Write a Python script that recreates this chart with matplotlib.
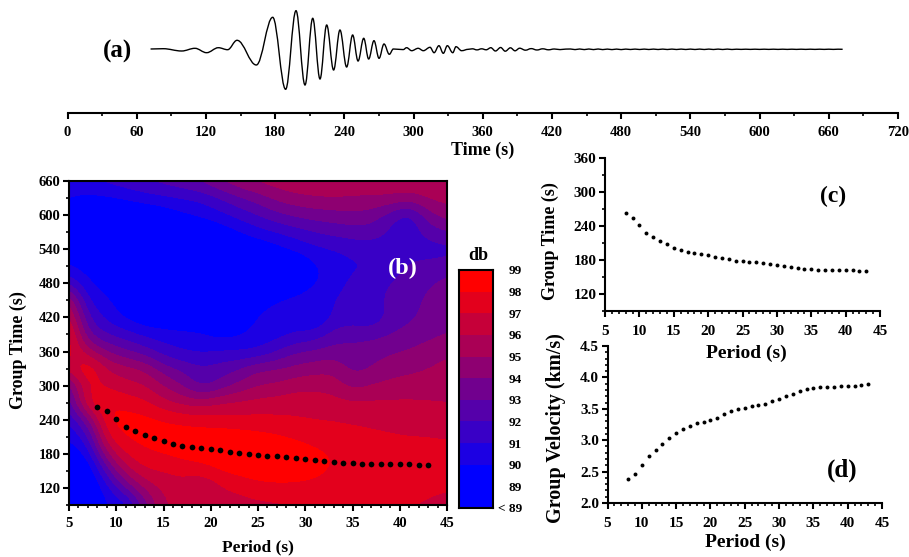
"""Seismogram, FTAN map and the picked dispersion curves (panels a-d)."""

import matplotlib
matplotlib.use("Agg")
import matplotlib.pyplot as plt
import numpy as np
from matplotlib.colors import BoundaryNorm, ListedColormap
from matplotlib.patches import PathPatch
from matplotlib.path import Path
from matplotlib.ticker import MultipleLocator

WIDTH, HEIGHT = 909, 557

# panel (a): extrema of the trace
wave_t = [72, 83, 99, 110.5, 120.6, 130.8, 138.8, 147, 163.7, 177.9, 189.1, 198.1, 205.9, 212.6,
          218.9, 224.7, 230.7, 236.2, 242, 247.2, 251.9, 256.8, 261.1, 265.7, 270.1, 274.4, 279,
          282.5, 291, 294, 298.4, 304, 308.5, 314.3, 317.8, 322, 325.8, 329.3, 334, 336.8, 341.7,
          347.5, 351, 355, 359, 363, 367, 371, 375.5, 379.5, 384, 388, 392, 397, 402, 407, 412,
          417, 422, 427, 432]
wave_amp = [-1, -0.7, -3, -0.3, -4.7, 0.3, -1.7, 7.7, -17, 30.7, -41.3, 37.3, -37, 29.7,
            -31, 23, -22, 18, -19, 13, -13, 9.7, -11, 7.3, -10.3, 4, -6.3,
            -1, -1.6, 0.3, -2.7, -0.3, -2.7, 0.7, -4.7, 2.3, -5.3, 2.3, -4.7, 1.3, -2.7,
            -1.3, -0.8, -1.9, -0.8, -1.8, 0.3, -3, 0.5, -3.2, 0.2, -2.8, -0.2, -2.2, -0.6,
            -2, -0.8, -1.8, -1, -1.6, -1.1]
tail_t = [436, 440, 444, 448, 452, 456, 460, 464, 468, 472, 476, 480, 484, 488, 492, 496, 500, 504,
          508, 512, 516, 520, 524, 528, 532, 536, 540, 544, 548, 552, 556, 560, 564, 568, 572, 576,
          580, 584, 588, 592, 596, 600, 604, 608, 612, 616, 620, 624, 628, 632, 636, 640, 644, 648,
          652, 656, 660, 664, 668, 672]
tail_amp = [-1.0, -1.6, -1.0, -1.6, -1.0, -1.6, -1.0, -1.6, -1.1, -1.6, -1.1, -1.6, -1.1, -1.5,
            -1.1, -1.5, -1.1, -1.5, -1.1, -1.5, -1.1, -1.5, -1.1, -1.5, -1.1, -1.5, -1.1, -1.5,
            -1.1, -1.5, -1.1, -1.5, -1.1, -1.5, -1.1, -1.5, -1.2, -1.4, -1.2, -1.4, -1.2, -1.4,
            -1.2, -1.4, -1.2, -1.4, -1.2, -1.4, -1.2, -1.4, -1.2, -1.4, -1.2, -1.4, -1.2, -1.4,
            -1.2, -1.4, -1.2, -1.3]

# panel (b): energy map in db, one row per time, one value per period
map_period = [5, 7, 9, 11, 13, 15, 17, 19, 21, 23, 25, 27, 29, 31, 33, 35, 37, 39, 41, 43, 45]
map_time = [90, 120, 150, 180, 210, 240, 270, 300, 330, 360, 390, 420, 450, 480, 510, 540, 570, 600, 630, 660]
map_db = [
    [88.5, 88.5, 90.0, 90.2, 93.5, 96.0, 96.3, 96.2, 96.4, 96.6, 96.7, 96.8, 96.9, 96.9, 96.9, 97.0, 97.05, 97.05, 97.05, 96.8, 96.6],
    [88.5, 88.5, 90.5, 93.0, 95.2, 96.3, 96.6, 95.4, 96.9, 97.2, 97.6, 97.7, 97.7, 97.6, 97.3, 97.4, 97.4, 97.4, 97.4, 97.3, 97.1],
    [88.7, 88.7, 92.5, 95.5, 97.0, 97.0, 97.3, 97.6, 98.1, 98.4, 98.6, 98.7, 98.6, 98.4, 97.9, 97.6, 97.6, 97.6, 97.6, 97.6, 97.5],
    [89.2, 90.0, 95.0, 97.2, 97.8, 98.05, 98.4, 98.5, 98.6, 98.7, 98.7, 98.7, 98.6, 98.3, 97.95, 97.7, 97.6, 97.5, 97.5, 97.4, 97.4],
    [90.0, 91.5, 97.2, 98.1, 98.4, 98.6, 98.7, 98.7, 98.7, 98.6, 98.4, 98.2, 97.9, 97.6, 97.4, 97.3, 97.2, 97.1, 97.0, 97.0, 96.9],
    [91.0, 93.5, 98.1, 98.5, 98.4, 98.05, 97.7, 97.5, 97.4, 97.3, 97.3, 97.2, 97.1, 97.0, 97.0, 96.9, 96.8, 96.7, 96.6, 96.6, 96.5],
    [92.0, 97.5, 98.2, 97.6, 97.3, 96.3, 95.8, 95.6, 96.1, 96.2, 96.4, 96.5, 96.6, 96.5, 96.4, 96.2, 96.2, 96.2, 96.2, 96.1, 96.0],
    [93.0, 97.4, 96.8, 96.4, 96.1, 95.0, 94.0, 92.4, 93.3, 94.3, 95.0, 95.2, 95.7, 95.8, 95.6, 94.6, 95.1, 95.3, 95.4, 95.5, 95.6],
    [96.5, 98.4, 96.0, 95.4, 95.0, 93.5, 92.8, 92.2, 92.5, 93.0, 94.0, 94.0, 94.3, 94.6, 94.8, 93.6, 94.0, 94.6, 94.8, 95.0, 95.3],
    [97.5, 95.5, 94.0, 93.2, 92.5, 91.5, 91.0, 90.8, 91.1, 91.0, 91.0, 92.0, 93.0, 93.2, 93.5, 93.3, 93.6, 93.9, 94.1, 94.5, 94.9],
    [98.0, 93.0, 92.0, 91.5, 90.8, 90.5, 90.3, 90.2, 89.6, 89.9, 90.4, 90.5, 91.0, 91.3, 92.5, 92.7, 92.7, 93.0, 93.4, 93.7, 94.0],
    [96.7, 92.0, 90.7, 89.8, 89.1, 89.0, 89.0, 89.0, 88.8, 89.0, 90.2, 90.5, 90.6, 89.7, 91.2, 91.5, 91.0, 92.4, 92.8, 93.3, 93.8],
    [95.5, 90.8, 90.2, 89.3, 88.7, 88.6, 88.6, 88.6, 88.6, 88.7, 89.4, 90.0, 90.3, 90.6, 91.0, 91.5, 91.7, 92.2, 92.6, 93.2, 94.2],
    [92.0, 90.0, 89.6, 88.7, 88.6, 88.6, 88.6, 88.6, 88.6, 88.6, 88.7, 88.9, 89.3, 89.9, 90.5, 91.3, 91.7, 92.0, 92.4, 92.8, 93.3],
    [90.0, 89.5, 89.2, 88.6, 88.6, 88.6, 88.6, 88.6, 88.6, 88.6, 88.6, 88.6, 88.7, 89.9, 90.3, 90.9, 90.8, 91.7, 92.0, 92.3, 92.6],
    [89.5, 88.7, 89.0, 88.6, 88.6, 88.6, 88.6, 88.6, 88.6, 88.8, 89.0, 89.6, 90.2, 90.7, 91.0, 91.3, 91.4, 91.6, 91.9, 91.5, 91.5],
    [89.5, 88.7, 88.8, 88.6, 88.6, 88.6, 88.7, 88.8, 89.2, 89.9, 90.6, 91.0, 91.5, 92.0, 92.3, 92.5, 92.6, 91.7, 91.3, 92.3, 93.0],
    [89.8, 89.2, 88.7, 88.8, 88.9, 89.2, 89.8, 90.2, 90.7, 91.4, 92.0, 92.8, 93.2, 93.5, 93.6, 93.8, 93.6, 92.5, 91.2, 93.7, 94.5],
    [90.0, 89.6, 89.8, 90.1, 90.5, 90.8, 91.0, 91.2, 92.0, 92.8, 93.5, 94.3, 94.7, 94.9, 95.0, 94.9, 94.9, 95.0, 94.7, 95.2, 95.4],
    [90.5, 91.0, 91.3, 91.7, 92.1, 92.4, 92.8, 93.3, 94.1, 94.9, 95.3, 95.6, 95.9, 96.0, 96.0, 95.8, 95.7, 95.7, 95.7, 95.8, 95.8],
]

# picked dispersion curve, same periods in (b), (c) and (d)
period = [8, 9, 10, 11, 12, 13, 14, 15, 16, 17, 18, 19, 20, 21, 22, 23, 24, 25, 26, 27, 28, 29, 30, 31, 32, 33,
          34, 35, 36, 37, 38, 39, 40, 41, 42, 43]
group_time = [262.7, 255, 241, 227, 220, 213, 207.5, 202, 197, 194, 192, 190.5, 188.7, 186, 183.5, 181, 179,
              177.5, 177, 176, 174.6, 173, 171, 169, 167, 166, 164, 163.5, 163, 163, 162, 162, 161.7, 161.7,
              161, 160.5]
group_velocity = [2.38, 2.46, 2.61, 2.75, 2.85, 2.94, 3.03, 3.11, 3.18, 3.23, 3.27, 3.29, 3.32, 3.36, 3.41, 3.46,
                  3.49, 3.52, 3.54, 3.56, 3.58, 3.62, 3.65, 3.70, 3.74, 3.78, 3.81, 3.83, 3.84, 3.85, 3.85,
                  3.86, 3.86, 3.87, 3.88, 3.90]

db_levels = [88, 89, 90, 91, 92, 93, 94, 95, 96, 97, 98, 99]
db_labels = ["< 89", "89", "90", "91", "92", "93", "94", "95", "96", "97", "98", "99"]
db_colors = ["#0000ff", "#0000ff", "#1c00e3", "#3900c6", "#5500aa", "#71008e", "#8e0071", "#aa0055", "#c60039",
             "#e3001c", "#ff0000"]

plt.rcParams["font.family"] = ["Liberation Serif", "DejaVu Serif"]
plt.rcParams["font.weight"] = "bold"
plt.rcParams["axes.labelweight"] = "bold"
plt.rcParams["axes.linewidth"] = 1.5

fig = plt.figure(figsize=(WIDTH / 100, HEIGHT / 100), dpi=100)


def fx(px):
    return px / WIDTH


def fy(py):
    return 1 - py / HEIGHT


def add_axes(left, top, right, bottom):
    return fig.add_axes([fx(left), fy(bottom), (right - left) / WIDTH, (bottom - top) / HEIGHT])


def style_ticks(ax, size=10.5, xpad=4.5):
    ax.tick_params(which="major", direction="out", length=4, width=1.5, labelsize=size, pad=2)
    ax.tick_params(which="minor", direction="out", length=2, width=1.2)
    ax.tick_params(axis="x", which="major", pad=xpad)


def period_axis(ax):
    ax.set_xlim(5, 45)
    ax.xaxis.set_major_locator(MultipleLocator(5))
    ax.xaxis.set_minor_locator(MultipleLocator(1))


def smooth_path(t, amp):
    # horizontal tangents at each extremum, so the trace stays round between them
    verts = [(t[0], amp[0])]
    codes = [Path.MOVETO]
    for i in range(1, len(t)):
        gap = (t[i] - t[i - 1]) * 0.37
        verts += [(t[i - 1] + gap, amp[i - 1]), (t[i] - gap, amp[i]), (t[i], amp[i])]
        codes += [Path.CURVE4] * 3
    return Path(verts, codes)


# (a)
ax_a = add_axes(67.5, 0, 898, 113)
ax_a.add_patch(PathPatch(smooth_path(wave_t + tail_t, wave_amp + tail_amp), fill=False, edgecolor="black", lw=1.0))
ax_a.set_xlim(0, 720)
ax_a.set_ylim(-65, 48)
for side in ["top", "left", "right"]:
    ax_a.spines[side].set_visible(False)
ax_a.set_yticks([])
ax_a.xaxis.set_major_locator(MultipleLocator(60))
ax_a.xaxis.set_minor_locator(MultipleLocator(30))
style_ticks(ax_a, xpad=5)
ax_a.set_xlabel("Time (s)", fontsize=13)
ax_a.xaxis.set_label_coords(fx(483), fy(142), transform=fig.transFigure)
fig.text(fx(118), fy(51), "(a)", fontsize=18, ha="center", va="center")

# (b)
ax_b = add_axes(69, 181, 447, 505)
cmap = ListedColormap(db_colors)
norm = BoundaryNorm(db_levels, cmap.N)
# half a cell past the first and last samples, the axis limits cut it back
half_p = (map_period[1] - map_period[0]) / 2
half_t = (map_time[1] - map_time[0]) / 2
ax_b.imshow(np.array(map_db), origin="lower", aspect="auto", cmap=cmap, norm=norm,
            extent=[map_period[0] - half_p, map_period[-1] + half_p, map_time[0] - half_t, map_time[-1] + half_t],
            interpolation="bicubic", interpolation_stage="data")
ax_b.scatter(period, group_time, s=17, color="black", zorder=3, linewidths=0)
period_axis(ax_b)
ax_b.set_ylim(90, 660)
ax_b.set_yticks([120, 180, 240, 300, 360, 420, 480, 540, 600, 660])
ax_b.yaxis.set_minor_locator(MultipleLocator(30))
style_ticks(ax_b)
ax_b.set_xlabel("Period (s)", fontsize=12.5)
ax_b.set_ylabel("Group Time (s)", fontsize=13)
ax_b.xaxis.set_label_coords(fx(258), fy(539), transform=fig.transFigure)
ax_b.yaxis.set_label_coords(fx(27), fy(350), transform=fig.transFigure)
fig.text(fx(403), fy(268), "(b)", fontsize=17.5, color="white", ha="center", va="center")

# colour key
ax_key = add_axes(459, 270, 493, 508)
ax_key.pcolormesh([0, 1], range(len(db_colors) + 1), np.arange(len(db_colors)).reshape(-1, 1), cmap=cmap,
                  vmin=-0.5, vmax=len(db_colors) - 0.5)
ax_key.set_xticks([])
ax_key.yaxis.tick_right()
ax_key.set_yticks(range(len(db_labels)))
ax_key.set_yticklabels(db_labels, ha="right")
ax_key.tick_params(axis="y", length=0, labelsize=9.5, pad=21)
fig.text(fx(478), fy(255), "db", fontsize=13, ha="center", va="center")

# (c)
ax_c = add_axes(605, 158, 880, 311)
ax_c.scatter(period, group_time, s=8, color="black", linewidths=0)
period_axis(ax_c)
ax_c.set_ylim(90, 360)
ax_c.set_yticks([120, 180, 240, 300, 360])
ax_c.yaxis.set_minor_locator(MultipleLocator(30))
style_ticks(ax_c, size=11, xpad=6)
ax_c.set_xlabel("Period (s)", fontsize=14)
ax_c.set_ylabel("Group Time (s)", fontsize=13)
ax_c.xaxis.set_label_coords(fx(746), fy(345), transform=fig.transFigure)
ax_c.yaxis.set_label_coords(fx(559), fy(241), transform=fig.transFigure)
fig.text(fx(833), fy(196), "(c)", fontsize=17, ha="center", va="center")

# (d) - its frame runs up into the x label of (c), so no background
ax_d = add_axes(607.5, 346, 882, 503)
ax_d.patch.set_alpha(0)
ax_d.scatter(period, group_velocity, s=8, color="black", linewidths=0)
period_axis(ax_d)
ax_d.set_ylim(2.0, 4.5)
ax_d.yaxis.set_major_locator(MultipleLocator(0.5))
ax_d.yaxis.set_minor_locator(MultipleLocator(0.1))
style_ticks(ax_d, size=11, xpad=6)
ax_d.set_xlabel("Period (s)", fontsize=14)
ax_d.set_ylabel("Group Velocity (km/s)", fontsize=14.5)
ax_d.xaxis.set_label_coords(fx(745), fy(534), transform=fig.transFigure)
ax_d.yaxis.set_label_coords(fx(566), fy(428), transform=fig.transFigure)
fig.text(fx(842), fy(470), "(d)", fontsize=18, ha="center", va="center")

for ax in (ax_c, ax_d):
    ax.spines["top"].set_visible(False)
    ax.spines["right"].set_visible(False)

fig.savefig("out.png", dpi=100)
